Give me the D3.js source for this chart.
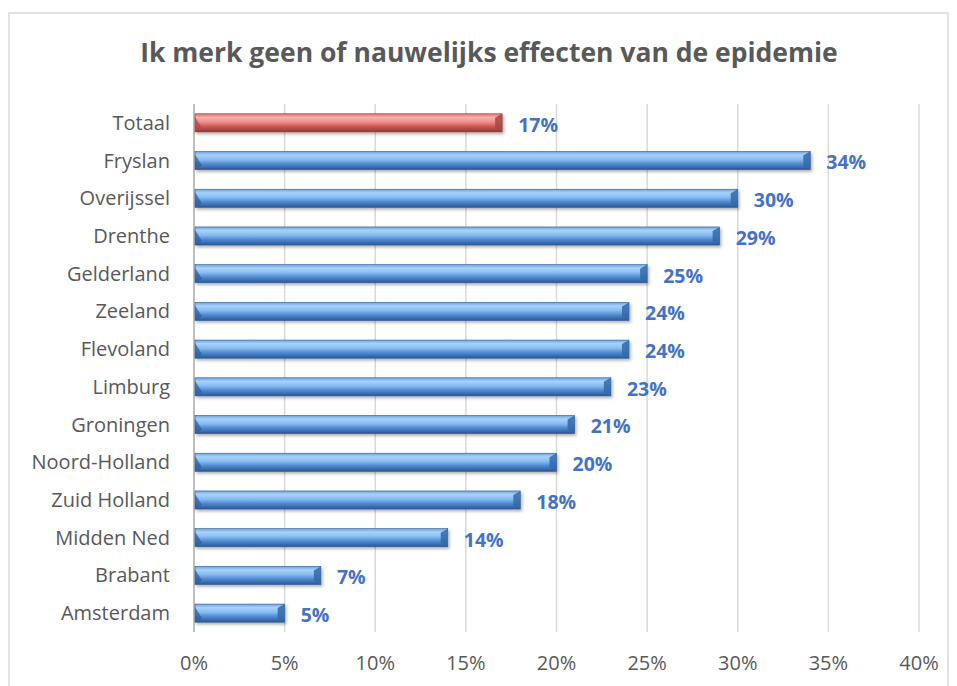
<!DOCTYPE html>
<html>
<head>
<meta charset="utf-8">
<script src="https://cdn.jsdelivr.net/npm/d3@7"></script>
<style>
  body { margin: 0; background: #fff; }
  svg { display: block; font-family: "Open Sans", Lato, sans-serif; }
</style>
</head>
<body>
<svg width="957" height="686"></svg>
<script>
const categories = ["Totaal", "Fryslan", "Overijssel", "Drenthe", "Gelderland", "Zeeland", "Flevoland",
  "Limburg", "Groningen", "Noord-Holland", "Zuid Holland", "Midden Ned", "Brabant", "Amsterdam"];
const values = [17, 34, 30, 29, 25, 24, 24, 23, 21, 20, 18, 14, 7, 5];
const xTicks = [0, 5, 10, 15, 20, 25, 30, 35, 40];
const title = "Ik merk geen of nauwelijks effecten van de epidemie";

var svg = d3.select("svg"),
    width = +svg.attr("width"),
    height = +svg.attr("height");

const margin = { left: 194, right: 38, top: 104, bottom: 54 };

// chart area border
svg.append("rect")
  .attr("x", 9).attr("y", 13)
  .attr("width", width - 18).attr("height", height + 10)
  .attr("fill", "#fff")
  .attr("stroke", "#d9d9d9").attr("stroke-width", 1.5);

var defs = svg.append("defs");

function grad(id, stops) {
  var g = defs.append("linearGradient").attr("id", id)
    .attr("x1", 0).attr("y1", 0).attr("x2", 0).attr("y2", 1);
  stops.forEach(s => g.append("stop").attr("offset", s[0]).attr("stop-color", s[1]));
}
grad("blueGrad", [[0, "#6fa6e3"], [0.2, "#a8d2fa"], [0.45, "#86bbf1"], [0.7, "#4f88cf"], [1, "#2b5792"]]);
grad("redGrad", [[0, "#e0716e"], [0.2, "#f8b0ae"], [0.45, "#ee8f8c"], [0.7, "#cc5854"], [1, "#8e3734"]]);

var shadow = defs.append("filter").attr("id", "shadow")
  .attr("x", "-5%").attr("y", "-30%").attr("width", "110%").attr("height", "180%");
shadow.append("feDropShadow").attr("dx", 1.5).attr("dy", 2).attr("stdDeviation", 1.5)
  .attr("flood-color", "#000").attr("flood-opacity", 0.3);

var x = d3.scaleLinear().domain([0, 40]).range([margin.left, 919]);
var y = d3.scaleBand().domain(categories).range([margin.top, height - margin.bottom])
  .paddingInner(0.52).paddingOuter(0.26);

// gridlines
svg.append("g").selectAll("line")
  .data(xTicks.slice(1))
  .enter().append("line")
  .attr("x1", d => x(d)).attr("x2", d => x(d))
  .attr("y1", margin.top).attr("y2", height - margin.bottom)
  .attr("stroke", "#d9d9d9").attr("stroke-width", 1.5);

// axis line
svg.append("line")
  .attr("x1", x(0)).attr("x2", x(0))
  .attr("y1", margin.top).attr("y2", height - margin.bottom)
  .attr("stroke", "#bfbfbf").attr("stroke-width", 2);

// x tick labels
svg.append("g").selectAll("text")
  .data(xTicks)
  .enter().append("text")
  .attr("x", d => x(d)).attr("y", 670)
  .attr("text-anchor", "middle")
  .attr("fill", "#595959").attr("font-size", 20)
  .text(d => d + "%");

// category labels
svg.append("g").selectAll("text")
  .data(categories)
  .enter().append("text")
  .attr("x", 170).attr("y", d => y(d) + y.bandwidth() / 2)
  .attr("dy", "0.35em")
  .attr("text-anchor", "end")
  .attr("fill", "#595959").attr("font-size", 20)
  .text(d => d);

// bars
var bars = svg.append("g").selectAll("g.bar")
  .data(categories.map((c, i) => ({ cat: c, val: values[i], red: i === 0 })))
  .enter().append("g").attr("class", "bar")
  .attr("filter", "url(#shadow)");

bars.append("rect")
  .attr("x", x(0) + 1)
  .attr("y", d => y(d.cat))
  .attr("width", d => x(d.val) - x(0) - 1)
  .attr("height", y.bandwidth())
  .attr("fill", d => d.red ? "url(#redGrad)" : "url(#blueGrad)")
  .attr("stroke", d => d.red ? "#8c3836" : "#2c5a94").attr("stroke-width", 0.6);

// bevelled ends
const bev = 7;
bars.append("path")
  .attr("d", d => {
    var x0 = x(0) + 1, y0 = y(d.cat), h = y.bandwidth();
    return "M" + x0 + "," + (y0 + 3) + "L" + (x0 + bev) + "," + (y0 + h - 4) +
      "L" + x0 + "," + (y0 + h) + "Z";
  })
  .attr("fill", d => d.red ? "#b34a47" : "#2f5f9e").attr("opacity", 0.75);
bars.append("path")
  .attr("d", d => {
    var x1 = x(d.val), y0 = y(d.cat), h = y.bandwidth();
    return "M" + x1 + "," + y0 + "L" + x1 + "," + (y0 + h) +
      "L" + (x1 - bev) + "," + (y0 + h - 4) + "L" + (x1 - bev) + "," + (y0 + 4) + "Z";
  })
  .attr("fill", d => d.red ? "#a84542" : "#3467a8").attr("opacity", 0.85);

// value labels
svg.append("g").selectAll("text")
  .data(categories.map((c, i) => ({ cat: c, val: values[i] })))
  .enter().append("text")
  .attr("x", d => x(d.val) + 16)
  .attr("y", d => y(d.cat) + y.bandwidth() / 2 + 2)
  .attr("dy", "0.35em")
  .attr("fill", "#4472c4").attr("font-size", 19.5).attr("font-weight", "bold")
  .text(d => d.val + "%");

// title
svg.append("text")
  .attr("x", 489).attr("y", 62)
  .attr("text-anchor", "middle")
  .attr("fill", "#595959").attr("font-size", 26.5).attr("font-weight", "bold")
  .text(title);
</script>
</body>
</html>
